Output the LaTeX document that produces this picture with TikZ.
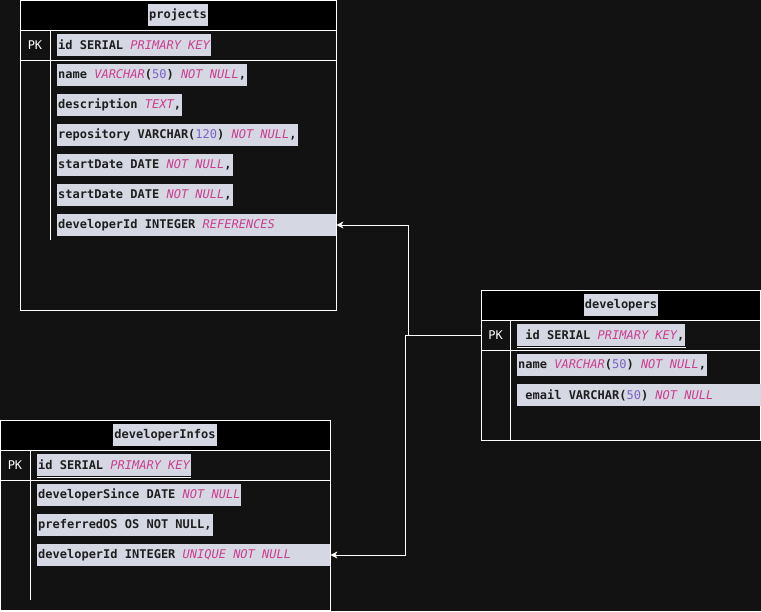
\documentclass[tikz,border=0pt]{standalone}
\usepackage{fontspec}
\setmonofont{DejaVu Sans Mono}
\usetikzlibrary{arrows.meta}
\definecolor{canvas}{HTML}{121212}
\definecolor{hl}{HTML}{D5D8E3}
\definecolor{ink}{HTML}{1E1E1E}
\definecolor{kwpink}{HTML}{CC3D8F}
\definecolor{numpurple}{HTML}{7B61C9}
\newcommand{\kw}[1]{{\mdseries\itshape\color{kwpink}#1}}
\newcommand{\nm}[1]{{\mdseries\color{numpurple}#1}}
\newcommand{\wide}[2]{\makebox[#1][l]{#2}}
\tikzset{
  field/.style={anchor=west, fill=hl, text=ink, inner xsep=1pt, inner ysep=0pt,
    minimum height=22pt, font=\ttfamily\bfseries\fontsize{12}{14}\selectfont},
  title/.style={field, anchor=center},
  pklabel/.style={text=white, font=\ttfamily\fontsize{12}{14}\selectfont},
  tbl/.style={draw=white, line width=1pt},
  fk/.style={draw=white, line width=1pt, -{Stealth[length=7pt,width=7pt,inset=2pt]}}
}
\begin{document}
\begin{tikzpicture}[x=1pt,y=-1pt]
  \useasboundingbox[fill=canvas] (0,0) rectangle (761,611);
  % projects
  \fill[black] (20,0) rectangle (336,30);
  \draw[tbl] (20,0) rectangle (336,310);
  \draw[tbl] (20,30) -- (336,30);
  \draw[tbl] (20,60) -- (336,60);
  \draw[tbl] (50,30) -- (50,240);
  \node[title] (ptitle) at (178,15) {projects};
  \node[pklabel] (ppklbl) at (35,45) {PK};
  \node[field] (pid) at (57,45) {id SERIAL \kw{PRIMARY KEY}};
  \node[field] (pname) at (57,75) {name \kw{VARCHAR}(\nm{50}) \kw{NOT NULL},};
  \node[field] (pdesc) at (57,105) {description \kw{TEXT},};
  \node[field] (prepo) at (57,135) {repository VARCHAR(\nm{120}) \kw{NOT NULL},};
  \node[field] (pstart) at (57,165) {startDate DATE \kw{NOT NULL},};
  \node[field] (pstartb) at (57,195) {startDate DATE \kw{NOT NULL},};
  \node[field] (pdevid) at (57,225) {\wide{277pt}{developerId INTEGER \kw{REFERENCES}}};
  % developers
  \fill[black] (481,290) rectangle (760,320);
  \draw[tbl] (481,290) rectangle (760,440);
  \draw[tbl] (481,320) -- (760,320);
  \draw[tbl] (481,350) -- (760,350);
  \draw[tbl] (510,320) -- (510,440);
  \node[title] (dtitle) at (621,305) {developers};
  \node[pklabel] (dpklbl) at (495.5,335) {PK};
  \node[field] (did) at (517,335) {\ id SERIAL \kw{PRIMARY KEY},};
  \draw[white, line width=1pt] ([yshift=-1pt]did.south west) -- ([yshift=-1pt]did.south east);
  \node[field] (dname) at (517,365) {name \kw{VARCHAR}(\nm{50}) \kw{NOT NULL},};
  \node[field] (demail) at (517,395) {\wide{242pt}{\ email VARCHAR(\nm{50}) \kw{NOT NULL}}};
  % developerInfos
  \fill[black] (0,420) rectangle (330,450);
  \draw[tbl] (0,420) rectangle (330,610);
  \draw[tbl] (0,450) -- (330,450);
  \draw[tbl] (0,480) -- (330,480);
  \draw[tbl] (30,450) -- (30,600);
  \node[title] (ititle) at (165,435) {developerInfos};
  \node[pklabel] (ipklbl) at (15,465) {PK};
  \node[field] (iid) at (37,465) {id SERIAL \kw{PRIMARY KEY}};
  \draw[white, line width=1pt] ([yshift=-1pt]iid.south west) -- ([yshift=-1pt]iid.south east);
  \node[field] (isince) at (37,495) {developerSince DATE \kw{NOT NULL}};
  \node[field] (ios) at (37,525) {preferredOS OS NOT NULL,};
  \node[field] (idevid) at (37,555) {\wide{291pt}{developerId INTEGER \kw{UNIQUE NOT NULL}}};
  % relations
  \coordinate (dpk) at (481,335);
  \coordinate (bendup) at (408,335);
  \coordinate (benddown) at (405.5,335);
  \draw[fk] (dpk) -- (bendup) |- (pdevid.east);
  \draw[fk] (dpk) -- (benddown) |- (idevid.east);
\end{tikzpicture}
\end{document}
